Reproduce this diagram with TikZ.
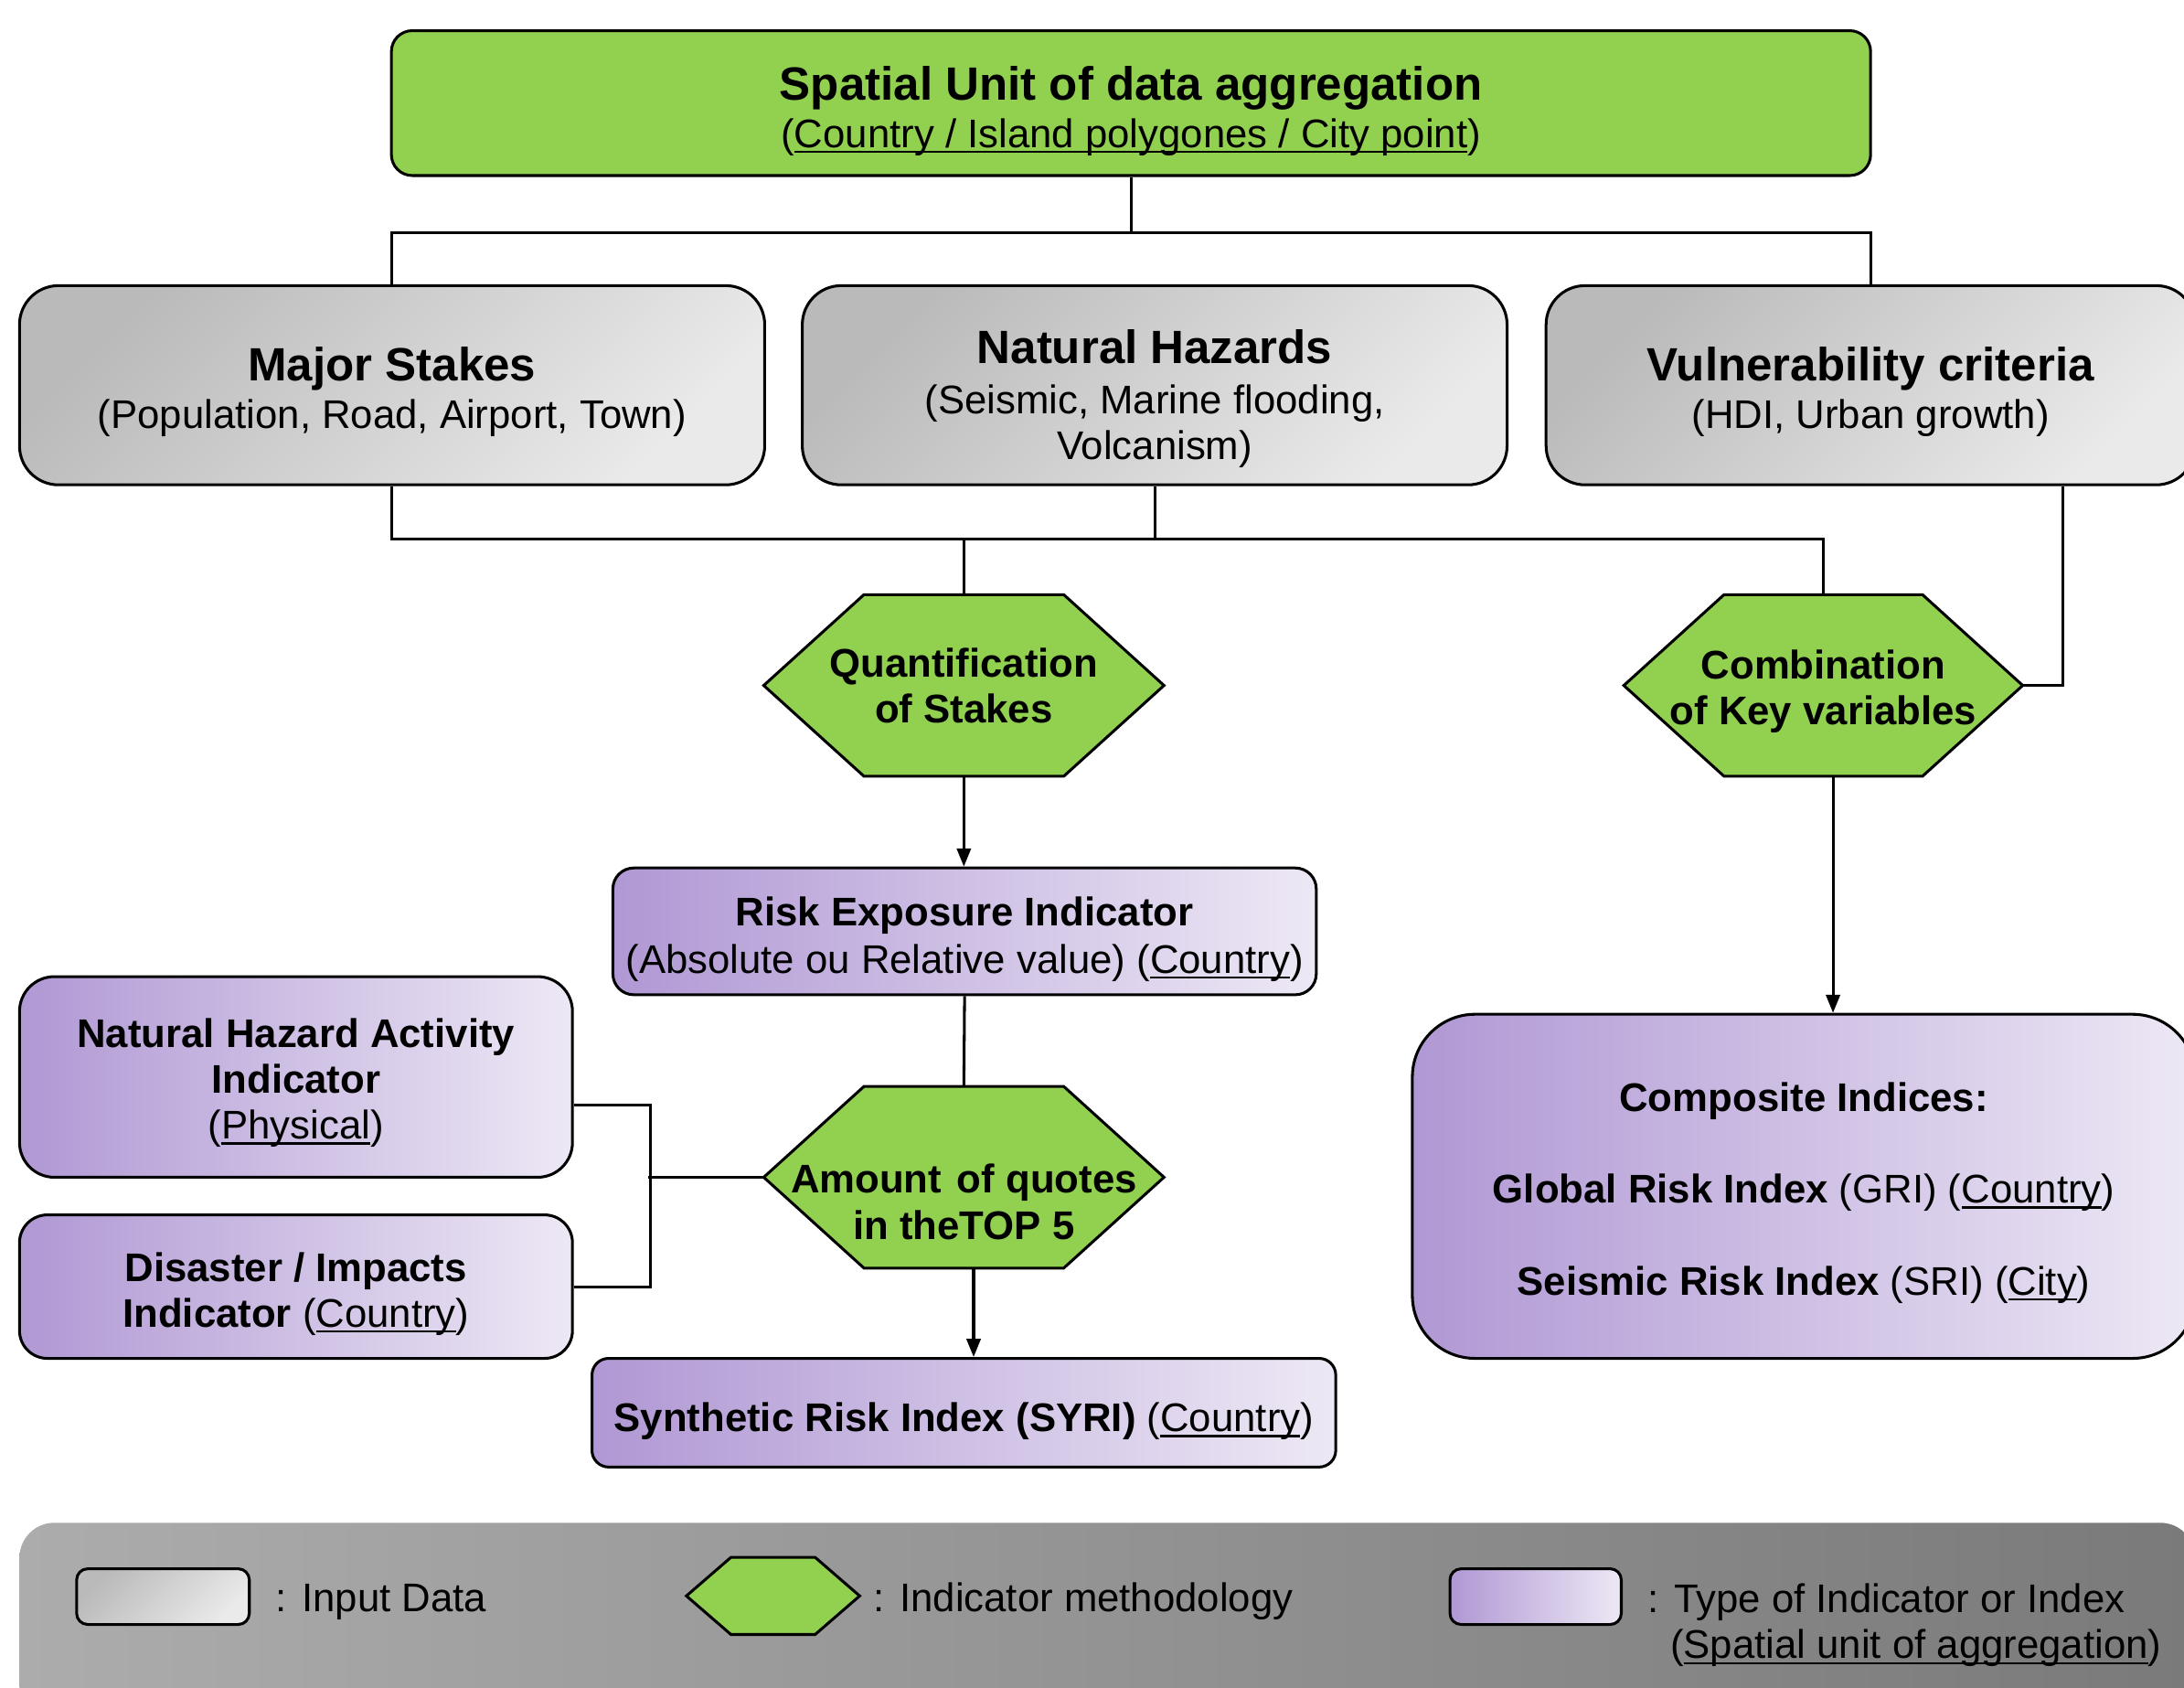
\documentclass[tikz,border=0pt]{standalone}
\usepackage{fontspec}
\setmainfont{Liberation Sans}
\usetikzlibrary{positioning,shapes,arrows.meta,backgrounds}
\definecolor{lgreen}{RGB}{146,208,80}
\definecolor{grayA}{RGB}{186,186,186}
\definecolor{grayB}{RGB}{234,234,234}
\definecolor{purA}{RGB}{176,152,212}
\definecolor{purB}{RGB}{237,232,245}
\definecolor{legA}{RGB}{172,172,172}
\definecolor{legB}{RGB}{122,122,122}
\newcommand{\headf}{\fontsize{33.5}{37}\selectfont\bfseries}
\newcommand{\tstrut}[1]{\rule{0pt}{#1pt}}
\newsavebox{\ulbox}
\newcommand{\uln}[1]{\sbox{\ulbox}{#1}\rlap{\rule[-4pt]{\wd\ulbox}{1.6pt}}\usebox{\ulbox}}

\begin{document}
\begin{tikzpicture}[x=1pt, y=-1pt, font=\fontsize{28.7}{33}\selectfont,
  box/.style={draw, line width=2pt, align=center, inner sep=0pt},
  unitbox/.style={box, fill=lgreen, rounded corners=15pt},
  inputbox/.style={box, rounded corners=28pt, top color=grayA, bottom color=grayB, shading angle=45},
  indexbox/.style={box, left color=purA, right color=purB},
  legendbg/.style={rounded corners=25pt, left color=legA, right color=legB},
  method/.style={align=center, inner sep=0pt, font=\fontsize{28.7}{33}\selectfont\bfseries},
  hexa/.style={draw, line width=2pt, fill=lgreen},
  link/.style={line width=2pt},
  arr/.style={link, -{Triangle[length=13pt,width=10pt]}}]
  \useasboundingbox (0,0) rectangle (1568,1211);

  \node[unitbox, minimum width=1062pt, minimum height=104pt] (unit) at (812,74) {\tstrut{35.5}{\headf Spatial Unit of data aggregation}\\[1pt](\uln{Country / Island polygones / City point})};

  \node[inputbox, minimum width=535pt, minimum height=143pt] (stakes) at (281.5,276.5) {\tstrut{33.5}{\headf Major Stakes}\\[1pt](Population, Road, Airport, Town)};
  \node[inputbox, minimum width=506pt, minimum height=143pt] (hazards) at (829,276.5) {\tstrut{43.5}{\headf Natural Hazards}\\[3pt](Seismic, Marine flooding,\\Volcanism)};
  \node[inputbox, minimum width=466pt, minimum height=143pt] (vulner) at (1343,276.5) {\tstrut{33.5}{\headf Vulnerability criteria}\\[1pt](HDI, Urban growth)};

  \node[method, minimum width=287pt, minimum height=130pt] (quant) at (692,492) {Quantification\\of Stakes};
  \node[method, minimum width=286pt, minimum height=130pt] (combi) at (1309,492) {\tstrut{29}Combination\\of Key variables};

  \node[indexbox, rounded corners=15pt, minimum width=505pt, minimum height=91pt] (expo) at (692.5,668.5) {\tstrut{32}\textbf{Risk Exposure Indicator}\\[1pt](Absolute ou Relative value) (\uln{Country})};
  \node[method, minimum width=287pt, minimum height=130pt] (quotes) at (692,845) {\tstrut{56}Amount\hspace{3pt} of quotes\\in theTOP 5};
  \node[indexbox, rounded corners=12pt, minimum width=534pt, minimum height=78pt] (syri) at (692,1014) {\tstrut{33}\textbf{Synthetic Risk Index (SYRI)} (\uln{Country})};

  \node[indexbox, rounded corners=25pt, minimum width=397pt, minimum height=144pt] (activity) at (212.5,773) {\tstrut{29}\textbf{Natural Hazard Activity}\\\textbf{Indicator}\\(\uln{Physical})};
  \node[indexbox, rounded corners=20pt, minimum width=397pt, minimum height=103pt] (disaster) at (212.5,923.5) {\tstrut{31}\textbf{Disaster / Impacts}\\\textbf{Indicator} (\uln{Country})};

  \node[indexbox, rounded corners=45pt, minimum width=562pt, minimum height=247pt] (composite) at (1295,851.5) {\tstrut{30}\textbf{Composite Indices:}\\[33pt]\textbf{Global Risk Index} (GRI) (\uln{Country})\\[33pt]\textbf{Seismic Risk Index} (SRI) (\uln{City})};

  \draw[link] (unit.south) -- ++(0,40) -| (stakes.north);
  \draw[link] (unit.south) -- ++(0,40) -| (vulner.north);
  \draw[link] (stakes.south) -- ++(0,38) -| (combi.north);
  \draw[link] (hazards.south) -- ++(0,38);
  \draw[link] (quant.north) -- ++(0,-41);
  \draw[link] ([xshift=-96pt]vulner.south east) |- (combi.east);
  \draw[arr] (quant.south) -- (quant.south |- expo.north);
  \draw[link] (expo.south) -- (quotes.north);
  \coordinate (qs) at ([xshift=7pt]quotes.south);
  \draw[arr] (qs) -- (qs |- syri.north);
  \coordinate (cs) at ([xshift=7pt]combi.south);
  \draw[arr] (cs) -- (cs |- composite.north);
  \draw[link] ([yshift=-20pt]activity.east) -- ++(55,0) |- (disaster.east);
  \draw[link] (quotes.west) -- ++(-83,0);

  \node[box, rounded corners=8pt, top color=grayA, bottom color=grayB, shading angle=45, minimum width=124pt, minimum height=40pt] (legin) at (117,1146) {};
  \node[right=18pt of legin, yshift=-4pt, inner sep=0pt] (legintxt) {: Input Data};
  \node[method, minimum width=124pt, minimum height=55pt] (legmeth) at (555,1145.5) {};
  \node[right=10pt of legmeth, yshift=-4pt, inner sep=0pt] (legmethtxt) {: Indicator methodology};
  \node[indexbox, rounded corners=8pt, minimum width=123pt, minimum height=40pt] (legidx) at (1102.5,1146) {};
  \node[right=18pt of legidx, yshift=-4pt, inner sep=0pt] (legidxtxt) {: Type of Indicator or Index};
  \node[below=6pt of legidxtxt.south west, anchor=north west, xshift=16pt, inner sep=0pt] (legidxsub) {(\uln{Spatial unit of aggregation})};

  \begin{scope}[on background layer]
    \node[legendbg, minimum width=1562pt, minimum height=147pt] (legend) at (795,1166.5) {};
    \foreach \h/\d in {quant/72,combi/72,quotes/72,legmeth/32}
      \draw[hexa] (\h.west) -- ([xshift=\d pt]\h.north west) -- ([xshift=-\d pt]\h.north east) -- (\h.east) -- ([xshift=-\d pt]\h.south east) -- ([xshift=\d pt]\h.south west) -- cycle;
  \end{scope}
\end{tikzpicture}
\end{document}
